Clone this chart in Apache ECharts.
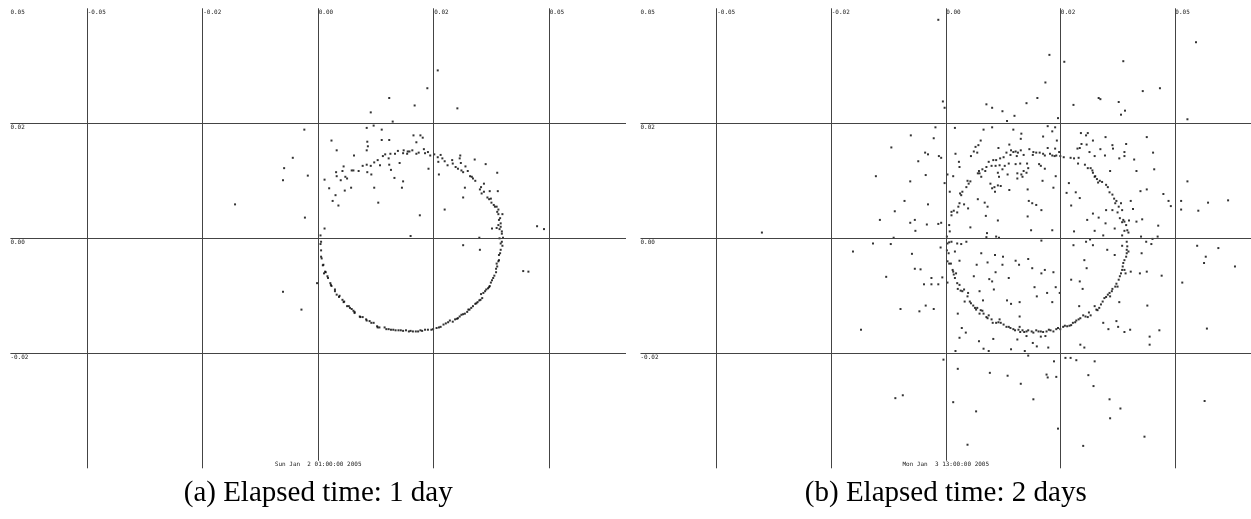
<!DOCTYPE html>
<html>
<head>
<meta charset="utf-8">
<script src="https://cdn.jsdelivr.net/npm/echarts@6/dist/echarts.min.js"></script>
<style>
  html, body { margin: 0; padding: 0; background: #fff; }
  #chart { width: 1251px; height: 519px; }
</style>
</head>
<body>
<div id="chart"></div>
<script>
// Grid positions and their printed labels
const xTickValues = [-0.04, -0.02, 0, 0.02, 0.04];
const xTickLabels = ['-0.05', '-0.02', '0.00', '0.02', '0.05'];
const yTickValues = [0.04, 0.02, 0, -0.02];
const yTickLabels = ['0.05', '0.02', '0.00', '-0.02'];
const timeStamps = ['Sun Jan  2 01:00:00 2005', 'Mon Jan  3 13:00:00 2005'];
const captions = ['(a) Elapsed time: 1 day', '(b) Elapsed time: 2 days'];

// Positions after one day
const dayOnePoints = [
  [0.0091,0.0219],[-0.0024,0.0189],[0.0084,0.0192],[0.0096,0.0196],[0.0129,0.0203],[0.0110,0.0189],[0.0165,0.0179],[0.0177,0.0179],
  [0.0181,0.0175],[0.0170,0.0167],[0.0085,0.0168],[0.0110,0.0171],[0.0123,0.0171],[0.0023,0.0170],[0.0086,0.0160],[0.0032,0.0153],
  [0.0084,0.0153],[0.0062,0.0144],[-0.0044,0.0140],
  [0.0011,0.0102],[0.0019,0.0087],[0.0025,0.0065],[0.0030,0.0075],[0.0035,0.0057],[0.0032,0.0108],[0.0031,0.0115],[0.0042,0.0117],
  [0.0039,0.0101],[0.0044,0.0125],[0.0047,0.0107],[0.0050,0.0104],[0.0057,0.0088],[0.0046,0.0083],[0.0058,0.0118],[0.0061,0.0118],
  [0.0070,0.0117],[0.0077,0.0126],[0.0084,0.0128],[0.0085,0.0115],[0.0092,0.0111],[0.0091,0.0126],[0.0097,0.0132],[0.0103,0.0136],
  [0.0107,0.0127],[0.0112,0.0143],[0.0116,0.0146],[0.0122,0.0139],[0.0125,0.0147],[0.0123,0.0128],[0.0126,0.0119],[0.0133,0.0147],
  [0.0132,0.0105],[0.0138,0.0152],[0.0141,0.0131],[0.0147,0.0148],[0.0148,0.0153],[0.0147,0.0099],[0.0145,0.0088],[0.0154,0.0147],
  [0.0155,0.0151],[0.0163,0.0153],[0.0158,0.0151],[0.0170,0.0147],[0.0174,0.0149],[0.0183,0.0155],[0.0185,0.0148],[0.0190,0.0150],
  [0.0191,0.0121],[0.0194,0.0144],[0.0201,0.0146],[0.0207,0.0141],[0.0208,0.0133],[0.0212,0.0145],[0.0215,0.0139],[0.0219,0.0134],
  [0.0224,0.0127],[0.0232,0.0136],[0.0233,0.0130],[0.0238,0.0124],[0.0246,0.0144],[0.0245,0.0139],[0.0247,0.0131],[0.0242,0.0121],
  [0.0248,0.0118],[0.0251,0.0115],[0.0255,0.0125],[0.0259,0.0117],[0.0263,0.0108],[0.0266,0.0107],[0.0268,0.0104],[0.0271,0.0137],
  [0.0290,0.0129],[0.0272,0.0100],[0.0287,0.0095],[0.0282,0.0089],[0.0280,0.0085],[0.0283,0.0078],[0.0287,0.0081],[0.0293,0.0071],
  [0.0296,0.0068],[0.0299,0.0069],[0.0297,0.0082],[0.0310,0.0114],[0.0311,0.0082],[0.0304,0.0058],[0.0309,0.0055],[0.0312,0.0050],
  [0.0315,0.0035],[0.0312,0.0042],[0.0319,0.0042],[0.0312,0.0023],[0.0316,0.0026],[0.0309,0.0018],[0.0314,0.0016],[0.0318,0.0012],
  [0.0314,0.0000],[0.0320,0.0001],[0.0316,-0.0009],[0.0319,-0.0013],[0.0315,-0.0026],[0.0313,-0.0029],[0.0312,-0.0040],[0.0309,-0.0044],
  [0.0308,-0.0053],[0.0305,-0.0065],[0.0301,-0.0073],[0.0299,-0.0077],[0.0296,-0.0085],[0.0291,-0.0089],[0.0286,-0.0095],[0.0282,-0.0097],
  [0.0284,-0.0104],[0.0279,-0.0108],[0.0276,-0.0111],[0.0272,-0.0114],[0.0265,-0.0121],[0.0262,-0.0124],[0.0258,-0.0128],[0.0254,-0.0131],
  [0.0248,-0.0133],[0.0242,-0.0139],[0.0237,-0.0141],[0.0228,-0.0143],[0.0221,-0.0148],[0.0217,-0.0150],[0.0209,-0.0155],[0.0205,-0.0156],
  [0.0196,-0.0159],[0.0185,-0.0159],[0.0180,-0.0161],[0.0173,-0.0162],[0.0164,-0.0162],[0.0157,-0.0162],[0.0152,-0.0160],[0.0143,-0.0160],
  [0.0134,-0.0160],[0.0130,-0.0159],[0.0122,-0.0158],[0.0115,-0.0155],[0.0106,-0.0155],[0.0102,-0.0153],[0.0096,-0.0147],[0.0089,-0.0144],
  [0.0084,-0.0143],[0.0077,-0.0137],[0.0072,-0.0136],[0.0063,-0.0130],[0.0061,-0.0126],[0.0055,-0.0121],[0.0050,-0.0118],[0.0044,-0.0111],
  [0.0042,-0.0107],[0.0036,-0.0102],[0.0032,-0.0098],[0.0029,-0.0092],[0.0022,-0.0081],[0.0021,-0.0078],[0.0017,-0.0069],[0.0012,-0.0058],
  [0.0010,-0.0061],[0.0008,-0.0047],[0.0006,-0.0035],[0.0005,-0.0032],[0.0005,-0.0021],[0.0004,-0.0010],[0.0005,-0.0006],[0.0004,0.0005],
  [0.0011,0.0017],
  [-0.0023,0.0036],[-0.0018,0.0109],[0.0104,0.0062],[0.0097,0.0088],[0.0160,0.0004],[0.0176,0.0040],[0.0219,0.0050],[0.0251,-0.0012],
  [0.0279,0.0001],[0.0280,-0.0020],[0.0301,0.0017],[-0.0002,-0.0078],[-0.0029,-0.0124],[0.0355,-0.0057],[0.0364,-0.0058],[0.0209,0.0111],
  [0.0254,0.0088],[0.0251,0.0071],
  [0.0009,-0.0046],[0.0013,-0.0059],[0.0016,-0.0066],[0.0023,-0.0083],[0.0029,-0.0089],[0.0037,-0.0100],[0.0045,-0.0110],[0.0053,-0.0118],
  [0.0058,-0.0123],[0.0063,-0.0128],[0.0073,-0.0137],[0.0083,-0.0141],[0.0092,-0.0147],[0.0103,-0.0155],[0.0118,-0.0158],[0.0126,-0.0159],
  [0.0139,-0.0160],[0.0147,-0.0161],[0.0160,-0.0161],[0.0169,-0.0162],[0.0177,-0.0160],[0.0190,-0.0159],[0.0199,-0.0158],[0.0212,-0.0154],
  [0.0225,-0.0146],[0.0233,-0.0145],[0.0240,-0.0140],[0.0245,-0.0136],[0.0251,-0.0132],[0.0260,-0.0124],[0.0268,-0.0118],[0.0274,-0.0113],
  [0.0281,-0.0107],[0.0289,-0.0092],[0.0294,-0.0087],[0.0297,-0.0083],[0.0303,-0.0069],[0.0308,-0.0059],[0.0310,-0.0049],[0.0313,-0.0038],
  [0.0316,-0.0020],[0.0318,-0.0006],[0.0318,0.0008],[0.0316,0.0020],[0.0313,0.0032],[0.0310,0.0046],[0.0306,0.0055],[0.0300,0.0062],
  [0.0207,0.0292],[0.0189,0.0261],[0.0123,0.0244],[0.0167,0.0231],[0.0241,0.0226],[-0.0144,0.0059],[-0.0059,0.0122],[-0.0061,0.0101],
  [0.0379,0.0021],[0.0391,0.0016],[-0.0061,-0.0093]
];

// Positions after two days
const dayTwoPoints = [
  [-0.0005,0.0238],[-0.0002,0.0227],[0.0071,0.0233],[0.0081,0.0227],[0.0099,0.0221],[0.0120,0.0213],[0.0107,0.0204],[0.0141,0.0235],
  [0.0160,0.0244],[0.0196,0.0209],[0.0223,0.0232],[0.0267,0.0244],[0.0270,0.0242],[0.0302,0.0237],[0.0313,0.0222],[0.0306,0.0215],
  [-0.0018,0.0193],[-0.0061,0.0179],[-0.0021,0.0174],[-0.0095,0.0158],[-0.0036,0.0149],[-0.0031,0.0146],[-0.0012,0.0143],[-0.0008,0.0140],
  [-0.0048,0.0134],[-0.0122,0.0108],[-0.0035,0.0110],[-0.0062,0.0099],[-0.0002,0.0096],[-0.0072,0.0065],[-0.0031,0.0059],[-0.0089,0.0047],
  [-0.0115,0.0032],[-0.0062,0.0027],[-0.0054,0.0032],[-0.0053,0.0013],[-0.0033,0.0024],[-0.0013,0.0025],[-0.0008,0.0027],[-0.0091,0.0001],
  [-0.0127,-0.0009],[-0.0096,-0.0010],
  [0.0016,0.0192],[0.0066,0.0189],[0.0081,0.0193],[0.0118,0.0189],[0.0132,0.0182],[0.0131,0.0173],[0.0170,0.0177],[0.0178,0.0195],
  [0.0186,0.0186],[0.0194,0.0170],[0.0061,0.0170],[0.0057,0.0162],[0.0052,0.0159],[0.0055,0.0149],[0.0044,0.0143],[0.0049,0.0151],
  [0.0092,0.0157],[0.0111,0.0163],[0.0114,0.0153],[0.0106,0.0149],[0.0113,0.0145],[0.0118,0.0150],[0.0122,0.0151],[0.0126,0.0149],
  [0.0131,0.0153],[0.0124,0.0143],[0.0136,0.0145],[0.0146,0.0155],[0.0153,0.0150],[0.0158,0.0149],[0.0152,0.0145],[0.0164,0.0149],
  [0.0170,0.0147],[0.0173,0.0144],[0.0178,0.0157],[0.0182,0.0147],[0.0186,0.0144],[0.0190,0.0143],[0.0193,0.0144],[0.0191,0.0156],
  [0.0198,0.0150],[0.0200,0.0143],[0.0206,0.0141],[0.0101,0.0141],[0.0095,0.0139],[0.0088,0.0136],[0.0083,0.0136],[0.0075,0.0133],
  [0.0080,0.0126],[0.0071,0.0124],[0.0069,0.0117],[0.0064,0.0120],[0.0059,0.0113],[0.0062,0.0107],[0.0056,0.0113],[0.0058,0.0117],
  [0.0017,0.0147],[0.0023,0.0133],[0.0024,0.0124],[0.0013,0.0108],[0.0003,0.0111],[0.0007,0.0081],[0.0025,0.0078],[0.0029,0.0081],
  [0.0027,0.0075],[0.0040,0.0095],[0.0043,0.0099],[0.0036,0.0089],[0.0038,0.0100],[0.0024,0.0061],[0.0022,0.0055],[0.0032,0.0059],
  [0.0010,0.0046],[0.0014,0.0048],[0.0020,0.0045],[0.0010,0.0040],[0.0039,0.0052],[0.0006,0.0023],[0.0007,0.0012],[0.0002,0.0003],
  [0.0043,0.0019],[0.0056,0.0068],[0.0068,0.0062],[0.0073,0.0055],[0.0070,0.0039],[0.0091,0.0031],[0.0072,0.0009],[0.0088,0.0003],
  [0.0087,0.0126],[0.0094,0.0127],[0.0099,0.0120],[0.0103,0.0126],[0.0110,0.0130],[0.0122,0.0129],[0.0130,0.0130],[0.0142,0.0130],
  [0.0163,0.0129],[0.0166,0.0126],[0.0173,0.0121],[0.0091,0.0114],[0.0093,0.0107],[0.0108,0.0111],[0.0125,0.0113],[0.0132,0.0111],
  [0.0134,0.0107],[0.0141,0.0114],[0.0144,0.0122],[0.0136,0.0117],[0.0125,0.0104],[0.0078,0.0095],[0.0081,0.0087],[0.0086,0.0081],
  [0.0091,0.0092],[0.0096,0.0091],[0.0085,0.0089],[0.0111,0.0084],[0.0143,0.0085],[0.0169,0.0100],[0.0188,0.0088],[0.0192,0.0108],
  [0.0145,0.0065],[0.0151,0.0061],[0.0158,0.0058],[0.0167,0.0049],[0.0143,0.0038],[0.0149,0.0014],[0.0186,0.0014],[0.0167,-0.0004],
  [0.0071,0.0002],[0.0093,0.0001],[0.0191,0.0193],
  [0.0218,0.0140],[0.0224,0.0139],[0.0232,0.0140],[0.0234,0.0157],[0.0230,0.0156],[0.0236,0.0183],[0.0248,0.0183],[0.0245,0.0179],
  [0.0237,0.0164],[0.0246,0.0163],[0.0231,0.0130],[0.0243,0.0128],[0.0248,0.0122],[0.0253,0.0122],[0.0256,0.0118],[0.0257,0.0114],
  [0.0261,0.0108],[0.0260,0.0107],[0.0264,0.0103],[0.0269,0.0100],[0.0273,0.0098],[0.0266,0.0097],[0.0280,0.0093],[0.0283,0.0089],
  [0.0286,0.0080],[0.0291,0.0076],[0.0294,0.0069],[0.0298,0.0065],[0.0296,0.0061],[0.0306,0.0061],[0.0302,0.0055],[0.0308,0.0049],
  [0.0300,0.0045],[0.0291,0.0049],[0.0280,0.0049],[0.0304,0.0035],[0.0310,0.0032],[0.0312,0.0029],[0.0315,0.0023],[0.0317,0.0014],
  [0.0319,0.0010],[0.0308,0.0005],[0.0316,-0.0006],[0.0257,0.0170],[0.0270,0.0155],[0.0278,0.0144],[0.0279,0.0176],[0.0291,0.0162],
  [0.0292,0.0156],[0.0315,0.0164],[0.0312,0.0150],[0.0312,0.0143],[0.0303,0.0139],[0.0329,0.0137],[0.0351,0.0176],[0.0362,0.0149],
  [0.0364,0.0120],[0.0333,0.0117],[0.0287,0.0117],[0.0260,0.0143],[0.0251,0.0150],[0.0215,0.0096],[0.0211,0.0079],[0.0227,0.0080],
  [0.0234,0.0070],[0.0219,0.0057],[0.0257,0.0043],[0.0247,0.0032],[0.0267,0.0036],[0.0279,0.0026],[0.0295,0.0017],[0.0323,0.0065],
  [0.0327,0.0051],[0.0340,0.0082],[0.0351,0.0085],[0.0343,0.0033],[0.0333,0.0029],[0.0341,0.0003],[0.0350,-0.0006],[0.0359,-0.0010],
  [0.0224,0.0012],[0.0260,0.0013],[0.0275,0.0005],[0.0308,0.0028],[0.0312,0.0013],[0.0252,-0.0002],[0.0245,-0.0006],[0.0320,0.0031],
  [-0.0162,-0.0023],[-0.0059,-0.0027],[-0.0054,-0.0053],[-0.0044,-0.0054],[-0.0104,-0.0067],[-0.0038,-0.0080],[-0.0025,-0.0080],[-0.0025,-0.0069],
  [-0.0013,-0.0080],[-0.0006,-0.0068],[-0.0009,-0.0016],[-0.0035,-0.0117],[-0.0046,-0.0127],[-0.0021,-0.0123],[-0.0079,-0.0123],[-0.0148,-0.0159],
  [-0.0088,-0.0278],[-0.0075,-0.0273],[-0.0004,-0.0211],[0.0013,-0.0285],[0.0053,-0.0301],[0.0038,-0.0359],
  [0.0003,-0.0009],[0.0006,-0.0007],[0.0010,-0.0006],[0.0002,-0.0021],[0.0005,-0.0026],[0.0003,-0.0040],[0.0006,-0.0044],[0.0009,-0.0044],
  [0.0013,-0.0058],[0.0012,-0.0055],[0.0018,-0.0061],[0.0014,-0.0063],[0.0003,-0.0077],[0.0016,-0.0069],[0.0020,-0.0078],[0.0024,-0.0081],
  [0.0021,-0.0088],[0.0026,-0.0091],[0.0029,-0.0092],[0.0032,-0.0089],[0.0039,-0.0095],[0.0038,-0.0101],[0.0033,-0.0110],[0.0042,-0.0110],
  [0.0044,-0.0113],[0.0048,-0.0117],[0.0051,-0.0121],[0.0053,-0.0124],[0.0055,-0.0121],[0.0061,-0.0125],[0.0064,-0.0126],[0.0059,-0.0131],
  [0.0066,-0.0131],[0.0071,-0.0137],[0.0073,-0.0139],[0.0075,-0.0134],[0.0080,-0.0141],[0.0082,-0.0147],[0.0088,-0.0147],[0.0092,-0.0146],
  [0.0096,-0.0147],[0.0101,-0.0150],[0.0106,-0.0154],[0.0110,-0.0154],[0.0113,-0.0156],[0.0118,-0.0158],[0.0121,-0.0160],[0.0127,-0.0159],
  [0.0130,-0.0163],[0.0134,-0.0160],[0.0137,-0.0163],[0.0141,-0.0162],[0.0144,-0.0160],[0.0150,-0.0162],[0.0153,-0.0164],[0.0158,-0.0160],
  [0.0162,-0.0162],[0.0166,-0.0162],[0.0170,-0.0163],[0.0176,-0.0162],[0.0180,-0.0159],[0.0183,-0.0160],[0.0188,-0.0162],[0.0193,-0.0158],
  [0.0196,-0.0156],[0.0200,-0.0158],[0.0205,-0.0154],[0.0208,-0.0152],[0.0212,-0.0153],[0.0216,-0.0152],[0.0219,-0.0151],[0.0222,-0.0147],
  [0.0226,-0.0146],[0.0228,-0.0143],[0.0232,-0.0141],[0.0235,-0.0139],[0.0240,-0.0134],[0.0244,-0.0136],[0.0248,-0.0137],[0.0253,-0.0134],
  [0.0250,-0.0129],[0.0260,-0.0118],[0.0263,-0.0124],[0.0265,-0.0125],[0.0268,-0.0121],[0.0271,-0.0115],[0.0274,-0.0110],[0.0277,-0.0104],
  [0.0280,-0.0102],[0.0283,-0.0098],[0.0286,-0.0095],[0.0287,-0.0101],[0.0290,-0.0092],[0.0291,-0.0088],[0.0296,-0.0084],[0.0298,-0.0079],
  [0.0300,-0.0084],[0.0302,-0.0072],[0.0304,-0.0066],[0.0306,-0.0061],[0.0308,-0.0055],[0.0309,-0.0049],[0.0310,-0.0043],[0.0312,-0.0038],
  [0.0315,-0.0032],[0.0316,-0.0026],[0.0316,-0.0020],[0.0317,-0.0014],
  [0.0020,-0.0009],[0.0027,-0.0010],[0.0036,-0.0006],[0.0016,-0.0023],[0.0024,-0.0039],[0.0054,-0.0046],[0.0062,-0.0026],[0.0073,-0.0042],
  [0.0086,-0.0029],[0.0100,-0.0032],[0.0099,-0.0046],[0.0087,-0.0059],[0.0076,-0.0071],[0.0081,-0.0075],[0.0049,-0.0066],[0.0059,-0.0092],
  [0.0065,-0.0108],[0.0084,-0.0089],[0.0110,-0.0069],[0.0122,-0.0039],[0.0128,-0.0046],[0.0144,-0.0036],[0.0151,-0.0052],[0.0173,-0.0055],
  [0.0167,-0.0061],[0.0188,-0.0059],[0.0155,-0.0085],[0.0159,-0.0101],[0.0177,-0.0095],[0.0192,-0.0085],[0.0186,-0.0111],[0.0114,-0.0114],
  [0.0107,-0.0108],[0.0129,-0.0111],[0.0129,-0.0136],[0.0129,-0.0154],[0.0094,-0.0141],[0.0058,-0.0179],[0.0066,-0.0192],[0.0075,-0.0196],
  [0.0083,-0.0175],[0.0114,-0.0193],[0.0125,-0.0176],[0.0138,-0.0196],[0.0152,-0.0182],[0.0159,-0.0188],[0.0179,-0.0190],[0.0174,-0.0170],
  [0.0199,-0.0095],[0.0021,-0.0131],[0.0028,-0.0156],[0.0035,-0.0164],[0.0024,-0.0173],[0.0017,-0.0196],[0.0141,-0.0170],[0.0166,-0.0171],
  [0.0223,-0.0012],[0.0242,-0.0038],[0.0246,-0.0052],[0.0257,-0.0012],[0.0282,-0.0020],[0.0295,-0.0029],[0.0308,-0.0013],[0.0323,-0.0058],
  [0.0312,-0.0055],[0.0314,-0.0061],[0.0234,-0.0075],[0.0219,-0.0072],[0.0239,-0.0088],[0.0303,-0.0111],[0.0298,-0.0144],[0.0301,-0.0154],
  [0.0284,-0.0158],[0.0275,-0.0147],[0.0312,-0.0163],[0.0322,-0.0159],[0.0233,-0.0118],[0.0235,-0.0185],[0.0242,-0.0190],[0.0209,-0.0208],
  [0.0218,-0.0208],[0.0228,-0.0212],[0.0260,-0.0214],[0.0249,-0.0238],[0.0258,-0.0257],[0.0286,-0.0280],[0.0305,-0.0296],[0.0287,-0.0313],
  [0.0240,-0.0361],[0.0347,-0.0345],[0.0176,-0.0237],[0.0178,-0.0242],[0.0193,-0.0241],[0.0189,-0.0214],[0.0196,-0.0331],[0.0153,-0.0280],
  [0.0131,-0.0253],[0.0108,-0.0239],[0.0077,-0.0234],[0.0021,-0.0227],[0.0144,-0.0204],[0.0352,-0.0117],[0.0356,-0.0171],[0.0356,-0.0185],
  [0.0342,-0.0026],[0.0351,-0.0058],[0.0339,-0.0061],[0.0319,-0.0023],
  [-0.0321,0.0010],[-0.0013,0.0380],[0.0181,0.0319],[0.0174,0.0271],[0.0207,0.0307],[0.0310,0.0308],[0.0344,0.0256],[0.0374,0.0261],
  [0.0437,0.0341],[0.0422,0.0207],[0.0422,0.0099],[0.0380,0.0077],[0.0389,0.0065],[0.0393,0.0056],[0.0411,0.0065],[0.0411,0.0050],
  [0.0441,0.0048],[0.0458,0.0062],[0.0493,0.0066],[0.0371,0.0022],[0.0370,0.0003],[0.0361,-0.0001],[0.0439,-0.0013],[0.0476,-0.0017],
  [0.0454,-0.0032],[0.0451,-0.0043],[0.0505,-0.0049],[0.0377,-0.0065],[0.0413,-0.0077],[0.0373,-0.0160],[0.0456,-0.0157],[0.0452,-0.0283]
];

const X_RANGE = [-0.0533, 0.0533];
const Y_RANGE = [-0.04, 0.04];
const PLOT_TOP = 8.3;
const PLOT_W = 615.6;
const PLOT_H = 460;
const panels = [
  { left: 10.4, points: dayOnePoints },
  { left: 640.5, points: dayTwoPoints }
];

const LINE_COLOR = '#444';
const SMALL_FONT = '6px "DejaVu Sans Mono", "Liberation Mono", monospace';

const chart = echarts.init(document.getElementById('chart'), null, { renderer: 'canvas' });

const gridLines = [
  ...xTickValues.map(v => ({ xAxis: v })),
  ...yTickValues.filter(v => v < Y_RANGE[1]).map(v => ({ yAxis: v }))
];

chart.setOption({
  animation: false,
  backgroundColor: '#fff',
  grid: panels.map(p => ({ left: p.left, top: PLOT_TOP, width: PLOT_W, height: PLOT_H, show: false })),
  xAxis: panels.map((p, i) => ({ type: 'value', gridIndex: i, min: X_RANGE[0], max: X_RANGE[1], show: false })),
  yAxis: panels.map((p, i) => ({ type: 'value', gridIndex: i, min: Y_RANGE[0], max: Y_RANGE[1], show: false })),
  series: panels.map((p, i) => ({
    type: 'scatter',
    xAxisIndex: i,
    yAxisIndex: i,
    data: p.points,
    symbol: 'rect',
    symbolSize: 2,
    itemStyle: { color: '#000' },
    silent: true,
    markLine: {
      silent: true,
      animation: false,
      symbol: ['none', 'none'],
      label: { show: false },
      emphasis: { disabled: true },
      lineStyle: { color: LINE_COLOR, width: 1, type: 'solid' },
      data: gridLines
    }
  }))
});

// Tick labels, time stamps and captions placed through the axes' own scales
const graphics = [];
panels.forEach((p, i) => {
  const toPx = (x, y) => chart.convertToPixel({ gridIndex: i }, [x, y]);
  xTickValues.forEach((v, k) => {
    const pt = toPx(v, Y_RANGE[1]);
    graphics.push({
      type: 'text', silent: true, x: pt[0] + 0.5, y: pt[1] + 4.3,
      style: { text: xTickLabels[k], font: SMALL_FONT, fill: '#222', align: 'left', verticalAlign: 'middle' }
    });
  });
  yTickValues.forEach((v, k) => {
    const pt = toPx(X_RANGE[0], v);
    graphics.push({
      type: 'text', silent: true, x: pt[0], y: pt[1] + 4.6,
      style: { text: yTickLabels[k], font: SMALL_FONT, fill: '#222', align: 'left', verticalAlign: 'middle' }
    });
  });
  const zeroBottom = toPx(0, Y_RANGE[0]);
  graphics.push({
    type: 'text', silent: true, z: 10, x: zeroBottom[0], y: zeroBottom[1] - 3.5,
    style: {
      text: timeStamps[i], font: SMALL_FONT, fill: '#222', align: 'center', verticalAlign: 'middle',
      backgroundColor: '#fff', padding: [1, 1]
    }
  });
  graphics.push({
    type: 'text', silent: true, x: zeroBottom[0], y: 493,
    style: { text: captions[i], font: '29px "Liberation Serif", "Times New Roman", serif', fill: '#000', align: 'center', verticalAlign: 'middle' }
  });
});
chart.setOption({ graphic: graphics });
</script>
</body>
</html>
